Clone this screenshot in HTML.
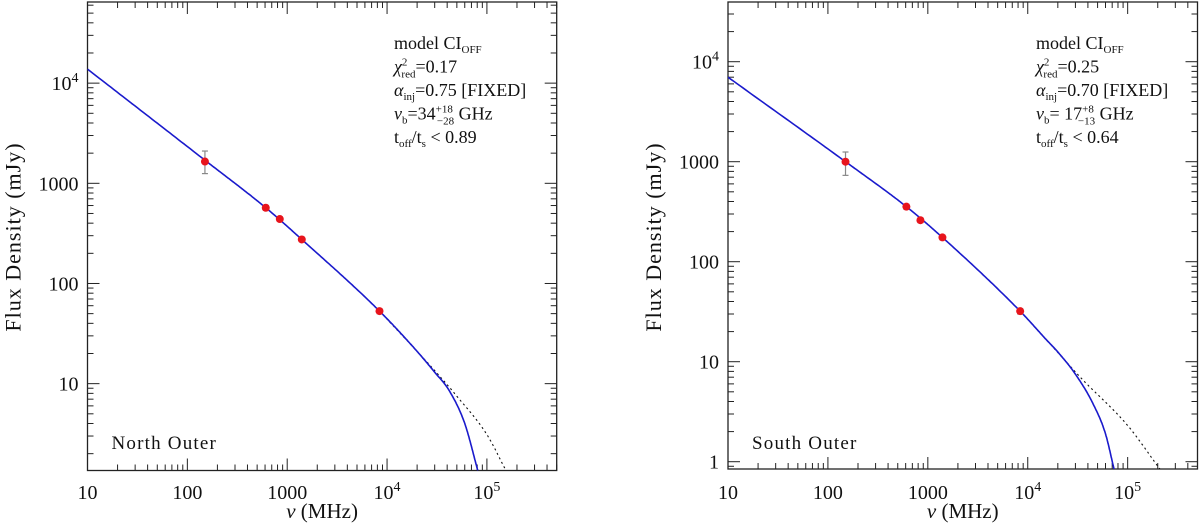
<!DOCTYPE html>
<html><head><meta charset="utf-8"><style>
html,body{margin:0;padding:0;background:#fff;}
svg{display:block;font-family:"Liberation Serif",serif;}
</style></head><body>
<svg id="chart" width="1200" height="524" viewBox="0 0 1200 524" xmlns="http://www.w3.org/2000/svg"></svg>
<script>
// ---- data: North Outer ----
const northFreq = [150, 610, 843, 1400, 8400];
const northFlux = [1650, 570, 440, 275, 53];
const northErrLo = [1250, 540, 418, 262, 50];
const northErrHi = [2100, 600, 462, 288, 56];
const northModelFreq = [10, 150, 610, 1400, 8400, 20000, 30000, 42000, 60000, 81000];
const northModelFlux = [13800, 1700, 570, 275, 53, 21, 13, 8.5, 4, 1.36];
const northCiFreq = [8400, 20000, 30000, 50000, 100000, 155000];
const northCiFlux = [53, 21, 13.5, 7.5, 3.1, 1.36];
// ---- data: South Outer ----
const southFreq = [150, 610, 843, 1400, 8400];
const southFlux = [1000, 355, 260, 175, 32];
const southErrLo = [730, 335, 246, 166, 30];
const southErrHi = [1250, 375, 274, 184, 34];
const southModelFreq = [10, 150, 610, 1400, 8400, 15000, 20000, 30000, 45000, 60000, 73000];
const southModelFlux = [7000, 1000, 355, 175, 32, 17, 12.5, 7.5, 3.8, 1.9, 0.845];
const southCiFreq = [8400, 15000, 34000, 100000, 210000];
const southCiFlux = [32, 17, 6.9, 2.3, 0.845];
// ---- tick labels ----
const xTickValues = [10, 100, 1000, 10000, 100000];
const xTickLabels = ["10", "100", "1000", "10^4", "10^5"];
const northYTickValues = [10, 100, 1000, 10000];
const northYTickLabels = ["10", "100", "1000", "10^4"];
const southYTickValues = [1, 10, 100, 1000, 10000];
const southYTickLabels = ["1", "10", "100", "1000", "10^4"];

const NS = "http://www.w3.org/2000/svg";
const svg = document.getElementById('chart');
function mk(tag, attrs, parent){
  const e = document.createElementNS(NS, tag);
  for (const k in attrs) e.setAttribute(k, attrs[k]);
  (parent || svg).appendChild(e);
  return e;
}
function tickText(parent, x, y, label, anchor){
  const t = mk('text', {x:x, y:y, 'font-size':20, 'text-anchor':anchor, fill:'#111'}, parent);
  if (label.indexOf('^') >= 0){
    const p = label.split('^');
    t.appendChild(document.createTextNode(p[0]));
    const s = mk('tspan', {'font-size':14, dy:-8}, t);
    s.textContent = p[1];
  } else t.textContent = label;
  return t;
}
// monotone cubic (Fritsch-Carlson) interpolation in log-log space
function monoCurve(fx, fy, X, Y){
  const xs = fx.map(Math.log10), ys = fy.map(Math.log10), n = xs.length;
  const d = [], m = [];
  for (let i = 0; i < n - 1; i++) d.push((ys[i+1] - ys[i]) / (xs[i+1] - xs[i]));
  m[0] = d[0]; m[n-1] = d[n-2];
  for (let i = 1; i < n - 1; i++) m[i] = (d[i-1] * d[i] <= 0) ? 0 : (d[i-1] + d[i]) / 2;
  for (let i = 0; i < n - 1; i++){
    if (d[i] === 0){ m[i] = 0; m[i+1] = 0; continue; }
    const a = m[i] / d[i], b = m[i+1] / d[i], s = a*a + b*b;
    if (s > 9){ const t = 3 / Math.sqrt(s); m[i] = t*a*d[i]; m[i+1] = t*b*d[i]; }
  }
  let path = '';
  for (let i = 0; i < n - 1; i++){
    const h = xs[i+1] - xs[i];
    for (let k = 0; k <= 40; k++){
      if (i > 0 && k === 0) continue;
      const t = k / 40, t2 = t*t, t3 = t2*t;
      const y = (2*t3 - 3*t2 + 1) * ys[i] + (t3 - 2*t2 + t) * h * m[i] + (-2*t3 + 3*t2) * ys[i+1] + (t3 - t2) * h * m[i+1];
      const x = xs[i] + t * h;
      path += (path ? ' L' : 'M') + X(Math.pow(10, x)).toFixed(1) + ',' + Y(Math.pow(10, y)).toFixed(1);
    }
  }
  return path;
}

function drawPanel(o){
  const g = mk('g', {});
  
  
  const L = o.left, R = o.right, T = o.top, B = o.bottom;
  const lx0 = 1, lx1 = Math.log10(5e5);
  const X = v => L + (Math.log10(v) - lx0) / (lx1 - lx0) * (R - L);
  const Y = v => B - (Math.log10(v) - o.ly0) / (o.ly1 - o.ly0) * (B - T);
  const clip = 'clip-' + o.name;
  const cp = mk('clipPath', {id: clip}, g);
  mk('rect', {x:L, y:T, width:R-L, height:B-T}, cp);

  const tk = mk('g', {stroke:'#222', 'stroke-width':1}, g);
  
  
  for (let d = 1; d <= 5; d++){
    for (let m = 1; m <= 9; m++){
      const v = m * Math.pow(10, d);
      if (v > 5e5) continue;
      const x = X(v), len = m === 1 ? 12 : 6;
      mk('line', {x1:x, x2:x, y1:B, y2:B-len}, tk);
      mk('line', {x1:x, x2:x, y1:T, y2:T+len}, tk);
    }
  }
  for (let d = -1; d <= 4; d++){
    for (let m = 1; m <= 9; m++){
      const v = m * Math.pow(10, d);
      const lv = Math.log10(v);
      if (lv < o.ly0 || lv > o.ly1) continue;
      const y = Y(v), len = m === 1 ? 12 : 6;
      mk('line', {x1:L, x2:L+len, y1:y, y2:y}, tk);
      mk('line', {x1:R, x2:R-len, y1:y, y2:y}, tk);
    }
  }
  const frame = mk('rect', {x:L, y:T, width:R-L, height:B-T, fill:'none', stroke:'#222', 'stroke-width':1.3}, g);
  
  

  o.xv.forEach((v, i) => {
    const t = tickText(g, X(v), 499, o.xl[i], 'middle');
    
    
  });
  o.yv.forEach((v, i) => {
    const t = tickText(g, L - 9, Y(v) + 7, o.yl[i], 'end');
    
    
  });

  const cg = mk('g', {'clip-path':'url(#' + clip + ')'}, g);
  const ci = mk('path', {d:monoCurve(o.cf, o.cs, X, Y), fill:'none', stroke:'#111', 'stroke-width':1.1, 'stroke-dasharray':'2,3'}, cg);
  
  
  const ml = mk('path', {d:monoCurve(o.mf, o.ms, X, Y), fill:'none', stroke:'#1a1acc', 'stroke-width':1.6, 'stroke-linejoin':'round'}, cg);
  
  

  o.f.forEach((f, i) => {
    const x = X(f);
    const e = mk('g', {stroke:'#888', 'stroke-width':1.2}, g);
    
    
    mk('line', {x1:x, x2:x, y1:Y(o.lo[i]), y2:Y(o.hi[i])}, e);
    mk('line', {x1:x-3, x2:x+3, y1:Y(o.lo[i]), y2:Y(o.lo[i])}, e);
    mk('line', {x1:x-3, x2:x+3, y1:Y(o.hi[i]), y2:Y(o.hi[i])}, e);
    const c = mk('circle', {cx:x, cy:Y(o.s[i]), r:4, fill:'#e8141c'}, g);
    
    
  });

  const xt = mk('text', {x:(L+R)/2, y:518, 'font-size':21, 'text-anchor':'middle', fill:'#111'}, g);
  xt.innerHTML = '<tspan font-style="italic">ν</tspan> (MHz)';
  
  
  const yt = mk('text', {x:0, y:0, 'font-size':22, 'text-anchor':'middle', fill:'#111', 'letter-spacing':'1',
    transform:'translate(' + (L - 67) + ',237) rotate(-90)'}, g);
  yt.textContent = 'Flux Density (mJy)';
  
  

  const lab = mk('text', {x:L + 24, y:449, 'font-size':19, fill:'#111', 'letter-spacing':'1.2'}, g);
  lab.textContent = o.label;
  
  

  const ann = mk('g', {'font-size':18, fill:'#111'}, g);
  
  
  const ax = o.annX;
  const lines = [
    'model CI<tspan font-size="11" dy="4">OFF</tspan>',
    '<tspan font-style="italic">χ</tspan><tspan font-size="11" dy="-7">2</tspan><tspan font-size="11" dx="-6" dy="12">red</tspan><tspan dy="-5">=' + o.chi + '</tspan>',
    '<tspan font-style="italic">α</tspan><tspan font-size="11" dy="4">inj</tspan><tspan dy="-4">=' + o.alpha + ' [FIXED]</tspan>',
    '<tspan font-style="italic">ν</tspan><tspan font-size="11" dy="4">b</tspan><tspan dy="-4">=' + o.nub + '</tspan><tspan font-size="11" dy="-7">' + o.up + '</tspan><tspan font-size="11" dx="-16" dy="12">' + o.dn + '</tspan><tspan dy="-5">  GHz</tspan>',
    't<tspan font-size="11" dy="4">off</tspan><tspan dy="-4">/t</tspan><tspan font-size="11" dy="4">s</tspan><tspan dy="-4"> &lt; ' + o.toff + '</tspan>'
  ];
  lines.forEach((h, i) => {
    const t = mk('text', {x:ax, y:49 + i * 23.5}, ann);
    t.innerHTML = h;
  });
}

drawPanel({name:'north-outer-panel', left:87.5, right:556.7, top:2, bottom:470.5,
  ly0:0.133, ly1:4.81, xv:xTickValues, xl:xTickLabels, yv:northYTickValues, yl:northYTickLabels,
  f:northFreq, s:northFlux, lo:northErrLo, hi:northErrHi,
  mf:northModelFreq, ms:northModelFlux, cf:northCiFreq, cs:northCiFlux,
  label:'North Outer', annX:394, chi:'0.17', alpha:'0.75', nub:'34', up:'+18', dn:'−28', toff:'0.89'});
drawPanel({name:'south-outer-panel', left:728, right:1197.5, top:2, bottom:469,
  ly0:-0.073, ly1:4.597, xv:xTickValues, xl:xTickLabels, yv:southYTickValues, yl:southYTickLabels,
  f:southFreq, s:southFlux, lo:southErrLo, hi:southErrHi,
  mf:southModelFreq, ms:southModelFlux, cf:southCiFreq, cs:southCiFlux,
  label:'South Outer', annX:1036, chi:'0.25', alpha:'0.70', nub:' 17', up:'+8', dn:'−13', toff:'0.64'});
</script>
</body></html>
